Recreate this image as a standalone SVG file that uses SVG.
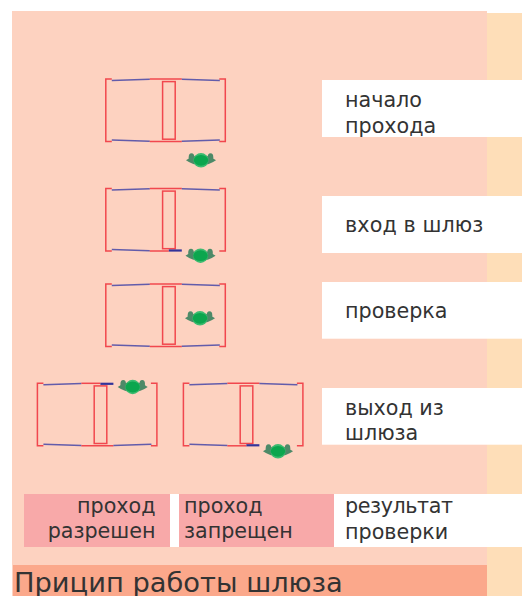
<svg xmlns="http://www.w3.org/2000/svg" width="522" height="596" viewBox="0 0 522 596">
<style>
text{font-family:"DejaVu Sans",Verdana,sans-serif;font-size:20.7px;fill:#333}
.t{font-size:27.3px}
.r{fill:none;stroke:#ee2f3a;stroke-width:1.5;opacity:.85}
.b{fill:none;stroke:#3b3fa5;stroke-width:1.5;opacity:.8}
.d{fill:none;stroke:#33339a;stroke-width:2.2}
.l{fill:#4d8a68}
</style>
<defs>
<g id="frame">
<path class="r" d="M6 0H0V62.5H6M113.5 0H119.5V62.5H113.5"/>
<rect class="r" x="56.8" y="2.600" width="12.600" height="57.600"/>
</g>
<g id="top">
<path class="b" d="M6 1.500L44 .3"/><path class="r" d="M44 0H76"/><path class="b" d="M76 .3L114 1.500"/>
</g>
<g id="bot">
<path class="b" d="M6 61L44 62.200"/><path class="r" d="M44 62.500H76"/><path class="b" d="M76 62.200L114 61"/>
</g>
<g id="botO">
<path class="b" d="M6 61L44 62.200"/><path class="r" d="M44 62.500H63"/><path class="d" d="M63 62H76"/>
</g>
<g id="topO">
<path class="b" d="M6 1.500L44 .3"/><path class="r" d="M44 0H63"/><path class="d" d="M63 .5H76"/>
</g>
<g id="frog">
<path class="l" d="M-15 0Q-8 -5 0 -5Q8 -5 15 0Q8 5 0 5Q-8 5 -15 0Z"/>
<ellipse class="l" cx="-9.500" cy="-3" rx="2.800" ry="4"/>
<ellipse class="l" cx="9.500" cy="-3" rx="2.800" ry="4"/>
<ellipse rx="7.500" ry="7.200" fill="#3cbb70"/>
<ellipse rx="7.200" ry="5.400" fill="#0ca64e"/>
</g>
</defs>
<rect id="bg" x="12" y="11" width="475" height="585" fill="#fdd2c0"/>
<rect id="band" x="487" y="13" width="35" height="583" fill="#fedeb8"/>
<g id="labels">
<rect x="322" y="80" width="200" height="57" fill="#fff"/>
<rect x="322" y="196" width="200" height="57" fill="#fff"/>
<rect x="322" y="282" width="200" height="56.700" fill="#fff"/>
<rect x="322" y="388" width="200" height="56.700" fill="#fff"/>
<text x="345" y="107">начало</text><text x="345" y="133">прохода</text>
<text x="345" y="232" letter-spacing=".1">вход в шлюз</text>
<text x="345" y="318">проверка</text>
<text x="345" y="415">выход из</text><text x="345" y="440">шлюза</text>
</g>
<g id="result">
<rect x="24" y="494" width="146" height="53" fill="#f8a9a9"/>
<rect x="170" y="494" width="9" height="53" fill="#fff"/>
<rect x="179" y="494" width="155" height="53" fill="#f8a9a9"/>
<rect x="334" y="494" width="188" height="53" fill="#fff"/>
<text x="155.500" y="512.500" text-anchor="end">проход</text><text x="155.500" y="538" text-anchor="end">разрешен</text>
<text x="184" y="512.500">проход</text><text x="184" y="538">запрещен</text>
<text x="345" y="513" letter-spacing="-.4">результат</text><text x="345" y="539">проверки</text>
</g>
<rect id="titlebar" x="13" y="565" width="474" height="31" fill="#fba88b"/>
<text id="title" class="t" x="14" y="591.500">Прицип работы шлюза</text>
<g id="gate1" transform="translate(105.8 79)"><use href="#frame"/><use href="#top"/><use href="#bot"/></g>
<g id="gate2" transform="translate(105.8 188.500)"><use href="#frame"/><use href="#top"/><use href="#botO"/></g>
<g id="gate3" transform="translate(105.8 284)"><use href="#frame"/><use href="#top"/><use href="#bot"/></g>
<g id="gate4" transform="translate(37.400 383.300)"><use href="#frame"/><use href="#topO"/><use href="#bot"/></g>
<g id="gate5" transform="translate(183.400 383.300)"><use href="#frame"/><use href="#top"/><use href="#botO"/></g>
<g id="frogs">
<use href="#frog" x="201" y="160.300"/>
<use href="#frog" x="200.500" y="255.700"/>
<use href="#frog" x="200" y="318.300"/>
<use href="#frog" x="132.700" y="387"/>
<use href="#frog" x="278" y="451.300"/>
</g>
<g id="connectors"/>
</svg>
